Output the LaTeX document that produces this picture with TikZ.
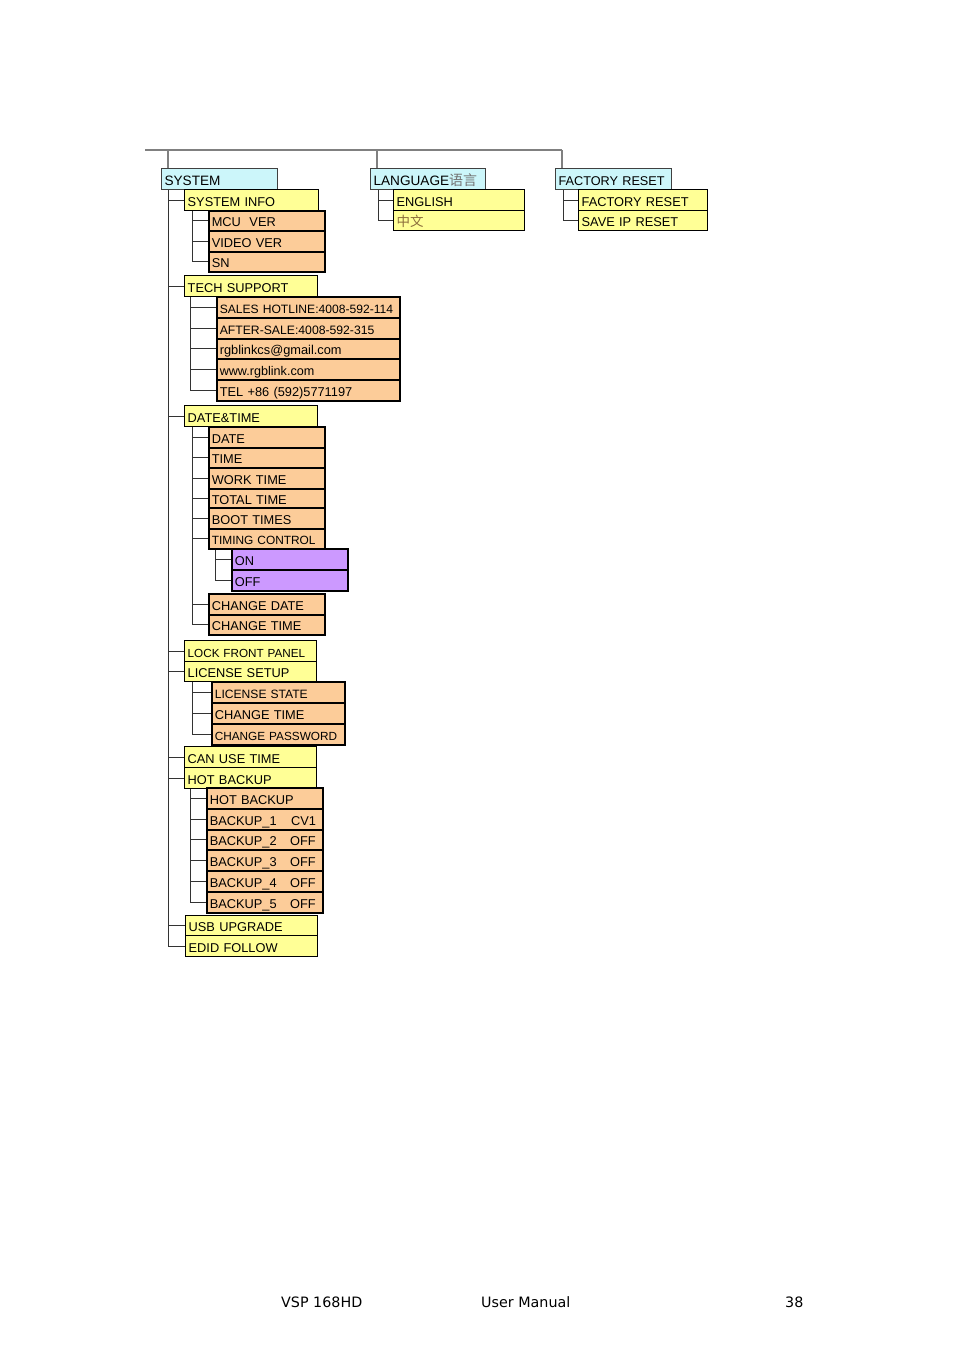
\documentclass[tikz,border=0pt]{standalone}
\usepackage{fontspec}
\setmainfont{Liberation Sans}
\newfontfamily\footfont{DejaVu Sans}
\newfontfamily\cjkfont{Noto Sans CJK SC}
\definecolor{cyanfill}{RGB}{204,246,250}
\definecolor{yelfill}{RGB}{255,255,150}
\definecolor{orfill}{RGB}{252,204,153}
\definecolor{purfill}{RGB}{204,153,255}
\definecolor{olivetxt}{RGB}{140,110,60}
\newcommand\setfs[1]{\fontsize{#1}{#1}\selectfont}
\pgfdeclarelayer{bg}
\pgfsetlayers{bg,main}
\begin{document}
\begin{tikzpicture}[x=1pt,y=-1pt,
  base/.style={draw, anchor=north west, inner xsep=3pt, inner ysep=0pt,
    text height=12pt, text depth=0pt, align=left, font=\setfs{12.8}},
  cbox/.style={base, fill=cyanfill, draw=black!75, line width=1.2pt, font=\setfs{13.6}},
  ybox/.style={base, fill=yelfill, line width=1.4pt},
  obox/.style={base, fill=orfill, line width=1.6pt},
  pbox/.style={base, fill=purfill, line width=1.6pt},
  wd/.code={\pgfmathsetmacro\tmpw{#1-6}\pgfkeysalso{minimum width=#1pt, text width=\tmpw pt}},
  ht/.style={minimum height=#1pt},
  conn/.style={draw=black!80, line width=1pt},
  topline/.style={draw=black!50, line width=1.4pt},
  foot/.style={anchor=base west, inner sep=0pt, font=\footfont\setfs{14.3}}]
\useasboundingbox (0,0) rectangle (954,1350);

% headers
\node[cbox, wd=116, ht=21] (sys) at (161,168) {SYSTEM};
\node[cbox, wd=115, ht=21] (lang) at (370,168) {LANGUAGE{\cjkfont\setfs{14}\color{black!55}语言}};
\node[cbox, wd=116, ht=21, font=\setfs{12.7}] (fac) at (555,168) {FACTORY RESET};

% language
\node[ybox, wd=131, ht=21] (english) at (393,189) {ENGLISH};
\node[ybox, wd=131, ht=20] (chinese) at (393,210) {{\cjkfont\setfs{13.5}\color{olivetxt}中文}};
% factory reset
\node[ybox, wd=129, ht=21] (facreset) at (578,189) {FACTORY RESET};
\node[ybox, wd=129, ht=20] (saveip) at (578,210) {SAVE IP RESET};

% system info
\node[ybox, wd=134, ht=21] (sysinfo) at (184,189) {SYSTEM INFO};
\node[obox, wd=116, ht=20] (mcu) at (208,210) {MCU~~VER};
\node[obox, wd=116, ht=21] (video) at (208,230) {VIDEO VER};
\node[obox, wd=116, ht=20] (sn) at (208,251) {SN};

% tech support
\node[ybox, wd=133, ht=21] (tech) at (184,275) {TECH SUPPORT};
\node[obox, wd=183, ht=21, font=\setfs{12.1}] (sales) at (216,296) {SALES HOTLINE:4008-592-114};
\node[obox, wd=183, ht=21, font=\setfs{12.2}] (after) at (216,317) {AFTER-SALE:4008-592-315};
\node[obox, wd=183, ht=20, font=\setfs{12.8}] (email) at (216,338) {rgblinkcs@gmail.com};
\node[obox, wd=183, ht=21, font=\setfs{12.6}] (www) at (216,358) {www.rgblink.com};
\node[obox, wd=183, ht=21, font=\setfs{12.8}] (tel) at (216,379) {TEL +86 (592)5771197};

% date & time
\node[ybox, wd=133, ht=21] (datetime) at (184,405) {DATE\&TIME};
\node[obox, wd=116, ht=21] (date) at (208,426) {DATE};
\node[obox, wd=116, ht=20] (time) at (208,447) {TIME};
\node[obox, wd=116, ht=21] (work) at (208,467) {WORK TIME};
\node[obox, wd=116, ht=19] (total) at (208,488) {TOTAL TIME};
\node[obox, wd=116, ht=21] (boot) at (208,507) {BOOT TIMES};
\node[obox, wd=116, ht=20, font=\setfs{11.9}] (timing) at (208,528) {TIMING CONTROL};
\node[pbox, wd=116, ht=21] (on) at (231,548) {ON};
\node[pbox, wd=116, ht=21] (off) at (231,569) {OFF};
\node[obox, wd=116, ht=21] (chdate) at (208,593) {CHANGE DATE};
\node[obox, wd=116, ht=20] (chtime) at (208,614) {CHANGE TIME};

% lock / license
\node[ybox, wd=132, ht=21, font=\setfs{11.7}] (lock) at (184,640) {LOCK FRONT PANEL};
\node[ybox, wd=132, ht=20] (license) at (184,661) {LICENSE SETUP};
\node[obox, wd=133, ht=21, font=\setfs{12.1}] (lstate) at (211,681) {LICENSE STATE};
\node[obox, wd=133, ht=21] (lchtime) at (211,702) {CHANGE TIME};
\node[obox, wd=133, ht=21, font=\setfs{11.8}] (chpass) at (211,723) {CHANGE PASSWORD};

% can use / hot backup
\node[ybox, wd=132, ht=21] (canuse) at (184,746) {CAN USE TIME};
\node[ybox, wd=132, ht=21] (hotbackup) at (184,767) {HOT BACKUP};
\node[obox, wd=116, ht=21] (hb) at (206,787) {HOT BACKUP};
\node[obox, wd=116, ht=21] (b1) at (206,808) {BACKUP\_1\hspace{14.5pt}CV1};
\node[obox, wd=116, ht=20] (b2) at (206,829) {BACKUP\_2\hspace{13.5pt}OFF};
\node[obox, wd=116, ht=21] (b3) at (206,849) {BACKUP\_3\hspace{13.5pt}OFF};
\node[obox, wd=116, ht=21] (b4) at (206,870) {BACKUP\_4\hspace{13.5pt}OFF};
\node[obox, wd=116, ht=21] (b5) at (206,891) {BACKUP\_5\hspace{13.5pt}OFF};

% usb / edid
\node[ybox, wd=132, ht=20] (usb) at (185,915) {USB UPGRADE};
\node[ybox, wd=132, ht=21] (edid) at (185,935) {EDID FOLLOW};

% connectors
\coordinate (topL) at (145,150);
\coordinate (topR) at (562,150);
\coordinate (topS) at (168,150);
\coordinate (topLg) at (377,150);
\coordinate (tS) at (168,189);
\coordinate (tSI) at (192,210);
\coordinate (tTS) at (190,296);
\coordinate (tDT) at (192,426);
\coordinate (tTC) at (215,548);
\coordinate (tLS) at (192,681);
\coordinate (tHB) at (190,788);
\coordinate (tLg) at (378,189);
\coordinate (tFc) at (563,189);

\begin{pgfonlayer}{bg}
\fill[white] (0,0) rectangle (954,1350);
\draw[topline] (topL) -- (topR);
\draw[topline] (topS) -- (topS |- sys.north);
\draw[topline] (topLg) -- (topLg |- lang.north);
\draw[topline] (topR) -- (topR |- fac.north);
\foreach \c in {sysinfo,tech,datetime,lock,license,canuse,hotbackup,usb,edid}
  \draw[conn] (tS) |- (\c.west);
\foreach \c in {mcu,video,sn}
  \draw[conn] (tSI) |- (\c.west);
\foreach \c in {sales,after,email,www,tel}
  \draw[conn] (tTS) |- (\c.west);
\foreach \c in {date,time,work,total,boot,timing,chdate,chtime}
  \draw[conn] (tDT) |- (\c.west);
\foreach \c in {on,off}
  \draw[conn] (tTC) |- (\c.west);
\foreach \c in {lstate,lchtime,chpass}
  \draw[conn] (tLS) |- (\c.west);
\foreach \c in {hb,b1,b2,b3,b4,b5}
  \draw[conn] (tHB) |- (\c.west);
\foreach \c in {english,chinese}
  \draw[conn] (tLg) |- (\c.west);
\foreach \c in {facreset,saveip}
  \draw[conn] (tFc) |- (\c.west);
\end{pgfonlayer}

% footer
\node[foot] (f1) at (281,1307) {VSP 168HD};
\node[foot] (f2) at (481,1307) {User Manual};
\node[foot] (f3) at (785,1307) {38};
\end{tikzpicture}
\end{document}
